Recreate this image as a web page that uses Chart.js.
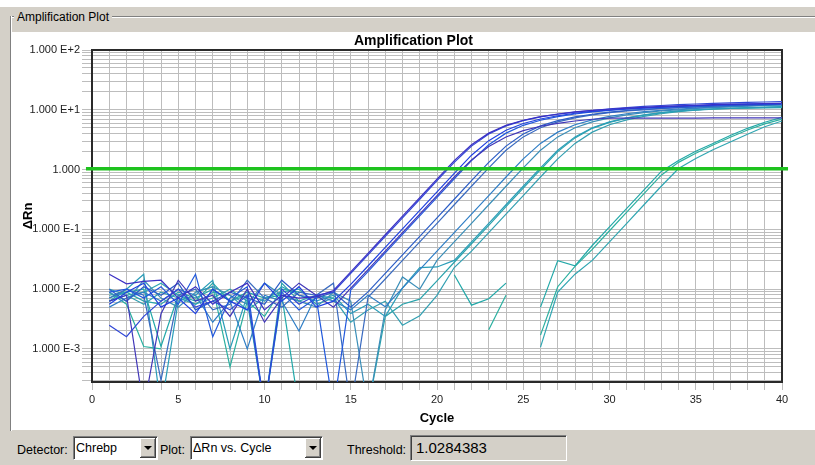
<!DOCTYPE html>
<html>
<head>
<meta charset="utf-8">
<title>Amplification Plot</title>
<script src="https://cdn.jsdelivr.net/npm/chart.js@4.4.1/dist/chart.umd.min.js"></script>
<style>
  body { margin: 0; background: #fff; font-family: "Liberation Sans", Arial, sans-serif; }
  #win { position: relative; width: 815px; height: 465px; overflow: hidden; background: #d4d0c8; }
  #topStrip { position: absolute; left: 0; top: 0; width: 815px; height: 7px; background: #fff; }
  #groupTop { position: absolute; left: 10px; top: 16px; width: 805px; height: 0; border-top: 1px solid #808080; border-bottom: 1px solid #fff; }
  #groupLeft { position: absolute; left: 10px; top: 16px; width: 0; height: 415px; border-left: 1px solid #808080; border-right: 1px solid #fff; }
  #groupLabel { position: absolute; left: 14px; top: 10px; padding: 0 3px; background: #d4d0c8; font-size: 12px; line-height: 14px; color: #000; }
  #panel { position: absolute; left: 12px; top: 32px; width: 803px; height: 398px; background: #fff; }
  #panel canvas { display: block; }
  .lbl { position: absolute; top: 443px; font-size: 12.5px; line-height: 15px; color: #000; }
  .combo { position: absolute; top: 436px; height: 24px; box-sizing: border-box; background: #fff;
           border: 1px solid; border-color: #808080 #fff #fff #808080; box-shadow: inset 1px 1px 0 #404040;
           font-size: 12.5px; line-height: 22px; padding-left: 2px; color: #000; }
  .combo .btn { position: absolute; right: 1px; top: 1px; width: 16px; height: 20px; background: #d4d0c8;
                box-shadow: inset -1px -1px 0 #404040, inset 1px 1px 0 #fff, inset -2px -2px 0 #808080; }
  .combo .btn::after { content: ""; position: absolute; left: 4px; top: 8px; width: 0; height: 0;
                       border-left: 4px solid transparent; border-right: 4px solid transparent; border-top: 4px solid #000; }
  #thresholdBox { position: absolute; left: 410px; top: 435px; width: 157px; height: 26px; box-sizing: border-box;
                  background: #d4d0c8; border: 1px solid; border-color: #808080 #fff #fff #808080;
                  box-shadow: inset 1px 1px 0 #404040; font-size: 15px; line-height: 24px; padding-left: 5px; color: #000; }
</style>
</head>
<body>
<div id="win">
  <div id="topStrip"></div>
  <div id="groupTop"></div>
  <div id="groupLeft"></div>
  <div id="groupLabel">Amplification Plot</div>
  <div id="panel"><canvas id="ampChart" width="803" height="398"></canvas></div>

  <div class="lbl" style="left:17px">Detector:</div>
  <div class="combo" style="left:73px;width:85px">Chrebp<div class="btn"></div></div>
  <div class="lbl" style="left:160px">Plot:</div>
  <div class="combo" style="left:190px;width:133px">ΔRn vs. Cycle<div class="btn"></div></div>
  <div class="lbl" style="left:347px">Threshold:</div>
  <div id="thresholdBox">1.0284383</div>
</div>

<script>
// cycle numbers and axis labels
const cycles = [1, 2, 3, 4, 5, 6, 7, 8, 9, 10, 11, 12, 13, 14, 15, 16, 17, 18, 19, 20,
                21, 22, 23, 24, 25, 26, 27, 28, 29, 30, 31, 32, 33, 34, 35, 36, 37, 38, 39, 40];
const xTickLabels = [0, 5, 10, 15, 20, 25, 30, 35, 40];
const decadeValues = [1e-3, 1e-2, 1e-1, 1, 1e1, 1e2];
const decadeLabels = ["1.000 E-3", "1.000 E-2", "1.000 E-1", "1.000", "1.000 E+1", "1.000 E+2"];
const thresholdValue = 1.0284383;

// delta Rn per cycle for each well (null = negative reading, not plotted on log axis)
const wellA1 = [0.0178, 0.0123, 0.0135, 0.0141, 0.0071, 0.0110, 0.0056, 0.0089, 0.0126, 0.0045,
                0.0079, 0.0071, 0.0075, 0.0095, 0.0195, 0.0398, 0.0813, 0.166, 0.339, 0.692,
                1.41, 2.60, 4.07, 5.50, 6.68, 7.67, 8.51, 9.23, 9.77, 10.2,
                10.7, 11.0, 11.4, 11.6, 11.9, 12.2, 12.4, 12.5, 12.7, 12.8];
const wellA2 = [0.0025, 0.0016, 0.0035, 0.0063, 0.0100, 0.0050, 0.0063, 0.0045, 0.0079, 0.0001,
                0.0100, 0.0056, 0.0079, 0.0090, 0.0184, 0.0375, 0.0766, 0.156, 0.319, 0.652,
                1.32, 2.47, 3.93, 5.37, 6.58, 7.59, 8.43, 9.16, 9.73, 10.4,
                10.9, 11.4, 11.8, 12.2, 12.5, 12.8, 13.1, 13.3, 13.5, 13.7];
const wellA3 = [0.0056, 0.0089, 0.0126, 0.0050, 0.0071, 0.0039, 0.0100, 0.0063, 0.0045, 0.0126,
                0.0063, 0.0110, 0.0050, 0.0063, 0.0120, 0.0244, 0.0499, 0.102, 0.208, 0.425,
                0.867, 1.74, 3.05, 4.55, 5.89, 7.01, 7.94, 8.75, 9.42, 9.91,
                10.4, 10.8, 11.1, 11.4, 11.7, 12.0, 12.2, 12.4, 12.6, 12.7];
const wellA4 = [0.0063, 0.0079, 0.0001, 0.0039, 0.0141, 0.0063, 0.0079, 0.0035, 0.0100, 0.0028,
                0.0071, 0.0126, 0.0079, 0.0050, 0.0104, 0.0212, 0.0433, 0.0883, 0.180, 0.368,
                0.752, 1.45, 2.43, 3.51, 4.49, 5.30, 5.94, 6.50, 6.95, 7.29,
                7.25, 7.25, 7.25, 7.25, 7.25, 7.35, 7.35, 7.35, 7.35, 7.35];
const wellA5 = [0.0089, 0.0100, 0.0071, 0.0110, 0.0056, 0.0178, 0.0016, 0.0071, 0.0110, 0.0001,
                0.0089, 0.0045, 0.0071, 0.0001, 0.0097, 0.0197, 0.0403, 0.0822, 0.168, 0.343,
                0.700, 1.41, 2.60, 4.07, 5.50, 6.68, 7.67, 8.51, 9.23, 9.77,
                10.2, 10.7, 11.0, 11.4, 11.6, 11.9, 12.2, 12.4, 12.5, 12.7];
const wellB1 = [0.0100, 0.0063, 0.0110, 0.0079, 0.0126, 0.0045, 0.0063, 0.0089, 0.0071, 0.0056,
                0.0141, 0.0079, 0.0071, 0.0089, 0.0050, 0.0090, 0.0184, 0.0375, 0.0766, 0.156,
                0.319, 0.652, 1.32, 2.47, 3.93, 5.37, 6.58, 7.59, 8.43, 9.16,
                9.73, 10.2, 10.6, 10.9, 11.2, 11.5, 11.8, 12.0, 12.2, 12.4];
const wellB2 = [0.0071, 0.0100, 0.0079, 0.0003, 0.0079, 0.0100, 0.0045, 0.0056, 0.0141, 0.0071,
                0.0050, 0.0089, 0.0079, 0.0126, 0.0001, 0.0073, 0.0148, 0.0303, 0.0618, 0.126,
                0.258, 0.526, 1.07, 2.10, 3.52, 5.01, 6.27, 7.33, 8.20, 8.98,
                9.59, 10.0, 10.5, 10.9, 11.2, 11.5, 11.8, 12.0, 12.3, 12.4];
const wellB3 = [0.0050, 0.0071, 0.0089, 0.0063, 0.0100, 0.0079, 0.0028, 0.0063, 0.0010, 0.0079,
                0.0063, 0.0020, 0.0079, 0.0063, 0.0045, 0.0079, 0.0051, 0.0104, 0.0212, 0.0433,
                0.0883, 0.180, 0.368, 0.752, 1.51, 2.74, 4.23, 5.62, 6.79, 7.76,
                8.59, 9.29, 9.82, 10.3, 10.7, 11.1, 11.4, 11.6, 11.9, 12.2];
const wellB4 = [0.0089, 0.0063, 0.0141, 0.0071, 0.0050, 0.0089, 0.0110, 0.0079, 0.0056, 0.0126,
                0.0079, 0.0063, 0.0050, 0.0089, 0.0063, 0.0001, 0.0045, 0.0160, 0.0100, 0.0303,
                0.0618, 0.126, 0.258, 0.526, 1.07, 2.10, 3.52, 5.01, 6.27, 7.33,
                8.20, 8.98, 9.59, 10.0, 10.5, 10.9, 11.2, 11.5, 11.8, 12.0];
const wellC1 = [0.0063, 0.0100, 0.0178, 0.0001, 0.0063, 0.0079, 0.0141, 0.0010, 0.0079, 0.0063,
                0.0110, 0.0079, 0.0063, 0.0079, 0.0039, 0.0056, 0.0035, 0.0105, 0.0230, 0.0235,
                0.0303, 0.0618, 0.126, 0.258, 0.526, 1.07, 2.10, 3.52, 5.01, 6.27,
                7.33, 8.20, 8.98, 9.59, 10.0, 10.4, 10.7, 10.9, 11.1, 11.3];
const wellC2 = [0.0079, 0.0089, 0.0063, 0.0056, 0.0089, 0.0071, 0.0100, 0.0063, 0.0079, 0.0001,
                0.0126, 0.0063, 0.0079, 0.0071, null, 0.0001, 0.0035, 0.0056, 0.0068, 0.0138,
                0.0282, 0.0575, 0.117, 0.240, 0.490, 1.00, 2.00, 3.39, 4.90, 6.17,
                7.24, 8.13, 8.91, 9.55, 10.0, 10.3, 10.5, 10.7, 10.8, 10.9];
const wellC3 = [0.0100, 0.0079, 0.0056, 0.0089, 0.0071, 0.0056, 0.0089, 0.0079, 0.0045, 0.0071,
                0.0089, 0.0100, 0.0056, 0.0071, 0.0028, 0.0045, 0.0063, 0.0025, 0.0036, 0.0079,
                0.0230, 0.0433, 0.0883, 0.180, 0.368, 0.752, 1.51, 2.74, 4.23, 5.62,
                6.79, 7.76, 8.59, 9.29, 9.82, 10.2, 10.5, 10.8, 11.0, 11.2];
const wellD1 = [0.0071, 0.0089, 0.0100, 0.0011, 0.0079, 0.0063, 0.0126, 0.0063, 0.0089, 0.0071,
                0.0079, 0.0001, null, null, null, null, null, null, null, null,
                0.0174, 0.0054, 0.0069, 0.0126, null, 0.0050, 0.0300, 0.0245, 0.0537, 0.110,
                0.224, 0.457, 0.933, 1.42, 2.02, 2.73, 3.72, 4.90, 6.20, 7.50];
const wellD2 = [0.0089, 0.0056, 0.0011, 0.0010, null, 0.0089, 0.0110, 0.0005, 0.0063, 0.0035,
                0.0100, 0.0089, null, null, null, null, null, null, null, null,
                null, null, 0.0021, 0.0079, null, 0.0017, 0.0110, 0.0240, 0.0464, 0.0948,
                0.194, 0.395, 0.807, 1.32, 1.88, 2.57, 3.48, 4.60, 5.80, 7.00];
const wellD3 = [0.0063, 0.0079, 0.0089, 0.0126, 0.0079, 0.0056, 0.0071, 0.0100, 0.0063, 0.0001,
                0.0079, 0.0063, null, null, null, null, null, null, null, null,
                null, null, null, null, null, 0.00107, 0.0089, 0.0178, 0.0303, 0.0618,
                0.126, 0.258, 0.526, 1.04, 1.53, 2.15, 2.90, 3.89, 5.20, 6.50];

const wellNames = ["A1", "A2", "A3", "A4", "A5", "B1", "B2", "B3", "B4", "C1", "C2", "C3", "D1", "D2", "D3"];
const wellSeries = [wellA1, wellA2, wellA3, wellA4, wellA5, wellB1, wellB2, wellB3, wellB4,
                    wellC1, wellC2, wellC3, wellD1, wellD2, wellD3];
const lineColors = ["#3b30c4", "#2f46d6", "#1f40e0", "#4036b8", "#2058dc", "#2b5dc6", "#3a6bc0", "#2f7ec6",
                    "#3a8eb8", "#2a9db8", "#2aa3ac", "#33a0b2", "#22a8a8", "#2bb0a0", "#30a6b2"];

Chart.defaults.font.family = '"Liberation Sans", Arial, sans-serif';
Chart.defaults.font.size = 11;
Chart.defaults.color = "#222";

// dark box around the plotting area
const plotFrame = {
    id: "plotFrame",
    beforeDatasetsDraw(chart) {
        const { ctx, chartArea: a } = chart;
        ctx.save();
        ctx.strokeStyle = "#2a2a2a";
        ctx.lineWidth = 2;
        ctx.strokeRect(a.left, a.top, a.right - a.left, a.bottom - a.top);
        ctx.restore();
    },
};

const curveSets = wellSeries.map((vals, i) => ({
    label: wellNames[i],
    data: cycles.map((c, j) => ({ x: c, y: vals[j] })),
    borderColor: lineColors[i],
    borderWidth: 1.2,
    pointRadius: 0,
    tension: 0,
    spanGaps: false,
    xAxisID: "x",
    yAxisID: "y",
    order: 1,
}));

const thresholdSet = {
    label: "Threshold",
    data: [{ x: -0.35, y: thresholdValue }, { x: 40.35, y: thresholdValue }],
    borderColor: "#1ec21e",
    borderWidth: 3.5,
    pointRadius: 0,
    clip: false,
    xAxisID: "x",
    yAxisID: "y",
    order: 0,
};

const gridColor = "#bdbdbd";

new Chart(document.getElementById("ampChart"), {
    type: "line",
    data: { datasets: [thresholdSet, ...curveSets] },
    plugins: [plotFrame],
    options: {
        responsive: false,
        animation: false,
        events: [],
        layout: { padding: 0 },
        plugins: {
            legend: { display: false },
            tooltip: { enabled: false },
            title: {
                display: true,
                text: "Amplification Plot",
                color: "#000",
                font: { size: 14, weight: "bold" },
                padding: { top: 1.2, bottom: 0 },
            },
        },
        scales: {
            x: {
                type: "linear",
                min: 0,
                max: 40,
                grid: { color: gridColor, tickLength: 8 },
                border: { color: "#2a2a2a", width: 2 },
                ticks: {
                    stepSize: 1,
                    autoSkip: false,
                    maxRotation: 0,
                    padding: 3,
                    color: "#222",
                    callback: (v) => (xTickLabels.includes(v) ? String(v) : ""),
                },
                title: {
                    display: true,
                    text: "Cycle",
                    color: "#000",
                    font: { size: 13, weight: "bold" },
                    padding: { top: 0, bottom: 4 },
                },
                afterFit(scale) { scale.height = 48; },
            },
            y: {
                type: "logarithmic",
                position: "left",
                min: 2.8e-4,
                max: 100,
                grid: { color: gridColor, tickLength: 10 },
                border: { color: "#2a2a2a", width: 2 },
                ticks: {
                    autoSkip: false,
                    padding: 2,
                    color: "#222",
                    callback: (v) => {
                        const i = decadeValues.findIndex((d) => Math.abs(d - v) / d < 1e-6);
                        return i >= 0 ? decadeLabels[i] : "";
                    },
                },
                afterBuildTicks(scale) {
                    const ticks = [];
                    for (let e = -4; e <= 2; e++) {
                        for (let m = 1; m <= 9; m++) {
                            const v = Number((m * Math.pow(10, e)).toPrecision(2));
                            if (v >= scale.min && v <= scale.max) ticks.push({ value: v });
                        }
                    }
                    scale.ticks = ticks;
                },
                title: {
                    display: true,
                    text: "ΔRn",
                    color: "#000",
                    font: { size: 13, weight: "bold" },
                    padding: { top: 9, bottom: 0 },
                },
                afterFit(scale) { scale.width = 80; },
            },
            yRight: {
                type: "linear",
                position: "right",
                grid: { display: false, drawTicks: false },
                border: { display: false },
                ticks: { display: false },
                afterFit(scale) { scale.width = 33; },
            },
        },
    },
});
</script>
</body>
</html>
